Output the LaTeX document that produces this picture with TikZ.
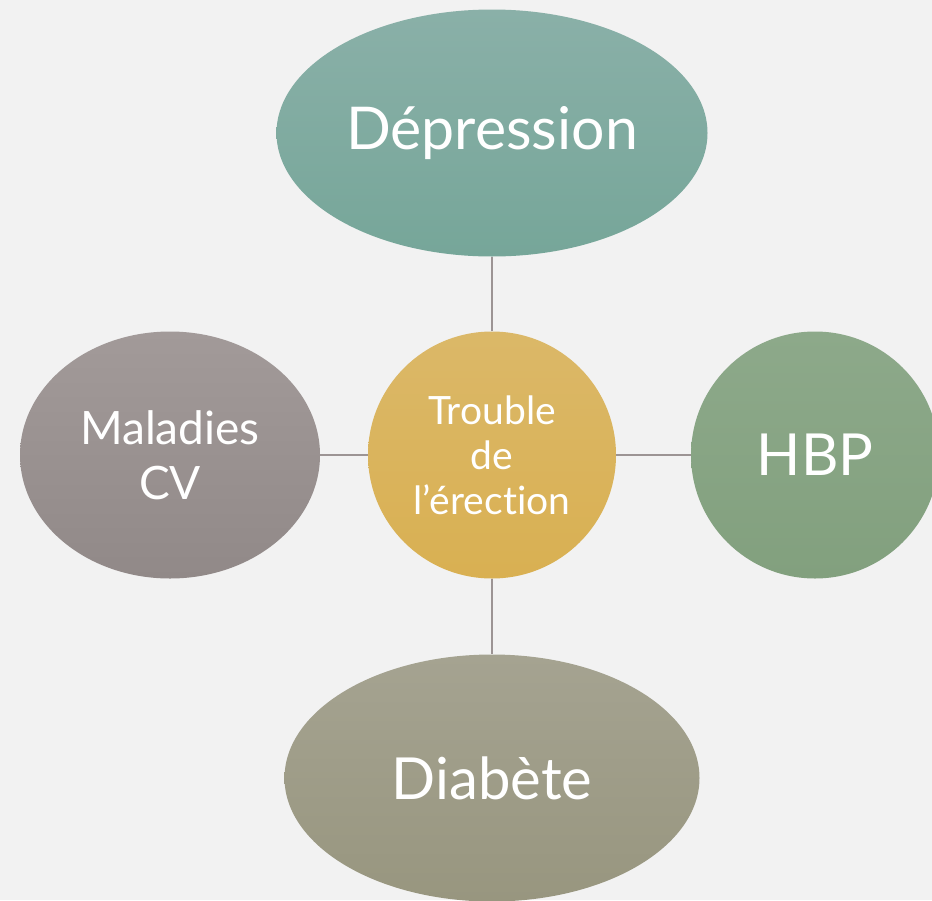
\documentclass[tikz,border=0pt]{standalone}
\usepackage{fontspec}
\setmainfont[Ligatures=NoCommon]{Lato}
\usetikzlibrary{shapes.geometric}
\definecolor{bg}{HTML}{F2F2F2}
\definecolor{ln}{HTML}{9C9494}
\definecolor{depT}{HTML}{8AB0A8}\definecolor{depB}{HTML}{76A699}
\definecolor{cenT}{HTML}{DBB868}\definecolor{cenB}{HTML}{D9B052}
\definecolor{malT}{HTML}{A29A99}\definecolor{malB}{HTML}{918988}
\definecolor{hbpT}{HTML}{8DA98A}\definecolor{hbpB}{HTML}{82A07E}
\definecolor{diaT}{HTML}{A5A391}\definecolor{diaB}{HTML}{98967F}
\tikzset{
  blob/.style={ellipse, inner sep=0pt, text=white, align=center},
  link/.style={draw=ln, line width=1.2pt}
}
\begin{document}
\begin{tikzpicture}[x=1pt,y=-1pt]
\fill[bg] (0,0) rectangle (932,900);
\useasboundingbox (0,0) rectangle (932,900);
\begin{scope}
\clip (0,0) rectangle (932,900);
\node[blob, minimum width=431pt, minimum height=247pt, top color=depT, bottom color=depB, font=\fontsize{59}{66}\selectfont] (dep) at (492,133) {Dépression};
\node[blob, minimum width=248pt, minimum height=247pt, top color=cenT, bottom color=cenB, font=\fontsize{39}{45}\selectfont] (cen) at (492,455) {Trouble\\de\\l’érection};
\node[blob, minimum width=300pt, minimum height=247pt, top color=malT, bottom color=malB, font=\fontsize{46}{55}\selectfont] (mal) at (170,455) {Maladies\\CV};
\node[blob, minimum width=248pt, minimum height=247pt, top color=hbpT, bottom color=hbpB, font=\fontsize{58}{66}\selectfont] (hbp) at (815,455) {HBP};
\node[blob, minimum width=415pt, minimum height=247pt, top color=diaT, bottom color=diaB, font=\fontsize{58}{66}\selectfont] (dia) at (492,778) {Diabète};
\end{scope}
\draw[link] (cen) -- (dep);
\draw[link] (cen) -- (mal);
\draw[link] (cen) -- (hbp);
\draw[link] (cen) -- (dia);
\end{tikzpicture}
\end{document}
